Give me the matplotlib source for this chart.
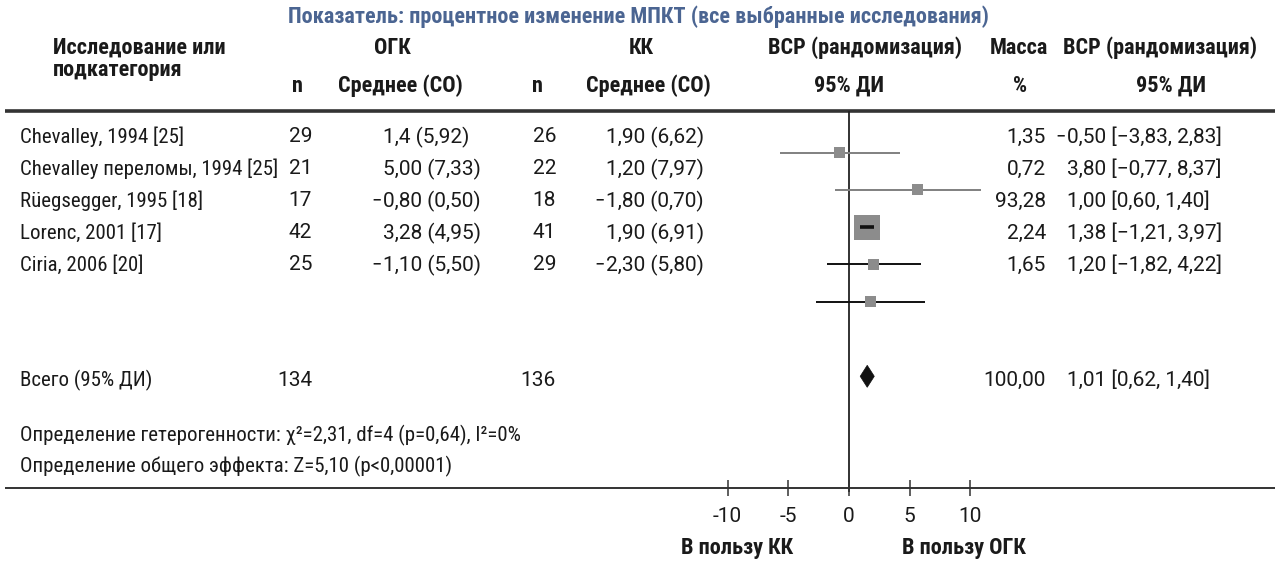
import matplotlib
matplotlib.use("Agg")
import numpy as np
import matplotlib.pyplot as plt
from matplotlib import font_manager
from matplotlib.patches import Polygon

# ---------------- data ----------------
studies = ["Chevalley, 1994 [25]", "Chevalley переломы, 1994 [25]",
           "Rüegsegger, 1995 [18]", "Lorenc, 2001 [17]", "Ciria, 2006 [20]"]
n_ogk = [29, 21, 17, 42, 25]
mean_sd_ogk = ["1,4 (5,92)", "5,00 (7,33)", "−0,80 (0,50)", "3,28 (4,95)", "−1,10 (5,50)"]
n_kk = [26, 22, 18, 41, 29]
mean_sd_kk = ["1,90 (6,62)", "1,20 (7,97)", "−1,80 (0,70)", "1,90 (6,91)", "−2,30 (5,80)"]
md = [-0.50, 3.80, 1.00, 1.38, 1.20]
ci_low = [-3.83, -0.77, 0.60, -1.21, -1.82]
ci_high = [2.83, 8.37, 1.40, 3.97, 4.22]
weights = [1.35, 0.72, 93.28, 2.24, 1.65]

total_n_ogk = 134
total_n_kk = 136
total_md = 1.01
total_low = 0.62
total_high = 1.40
total_weight = 100.00

axis_ticks = [-10, -5, 0, 5, 10]

title = "Показатель: процентное изменение МПКТ (все выбранные исследования)"
heterogeneity = "Определение гетерогенности: χ²=2,31, df=4 (p=0,64), I²=0%"
overall_effect = "Определение общего эффекта: Z=5,10 (p<0,00001)"
favours_left = "В пользу КК"
favours_right = "В пользу ОГК"

# ---------------- fonts ----------------
available = {f.name for f in font_manager.fontManager.ttflist}
family = "DejaVu Sans"
for cand in ["Liberation Sans Narrow", "Roboto Condensed", "Open Sans Condensed"]:
    if cand in available:
        family = cand
        break
plt.rcParams["font.family"] = [family, "DejaVu Sans"]
num_family = ["Roboto", "DejaVu Sans"] if "Roboto" in available else [family, "DejaVu Sans"]


def fmt(v):
    return f"{v:.2f}".replace(".", ",").replace("-", "−")


W, H = 1275, 562
fig = plt.figure(figsize=(W / 100, H / 100), dpi=100)

# full-figure canvas for the table, in pixel units
ax = fig.add_axes([0, 0, 1, 1])
ax.set_xlim(0, W)
ax.set_ylim(H, 0)
ax.axis("off")

TXT = "#1a1a1a"
FS = 15
HFS = 16

ax.text(638, 17, title, ha="center", va="center", fontsize=16,
        fontweight="bold", color="#4b6592")

# header
hy1, hy2, hy3 = 48, 70, 86
hdr = dict(va="center", fontsize=HFS, fontweight="bold", color=TXT)
ax.text(53, hy1, "Исследование или", ha="left", **hdr)
ax.text(53, hy2, "подкатегория", ha="left", **hdr)
ax.text(392, hy1, "ОГК", ha="center", **hdr)
ax.text(641, hy1, "КК", ha="center", **hdr)
ax.text(865, hy1, "ВСР (рандомизация)", ha="center", **hdr)
ax.text(1019, hy1, "Масса", ha="center", **hdr)
ax.text(1160, hy1, "ВСР (рандомизация)", ha="center", **hdr)
for x, s in [(297, "n"), (400, "Среднее (СО)"), (537, "n"), (648, "Среднее (СО)"),
             (849, "95% ДИ"), (1020, "%"), (1171, "95% ДИ")]:
    ax.text(x, hy3, s, ha="center", **hdr)

# rules
ax.plot([5, W], [111, 111], color="#333333", lw=2.6, solid_capstyle="butt")
ax.plot([5, W], [488, 488], color="#333333", lw=1.4, solid_capstyle="butt")

# study rows
row0, row_step = 137, 32.0
body = dict(va="center", fontsize=FS, color=TXT)
num = dict(va="center", fontsize=FS, color=TXT, family=num_family)


def hanging(x, y, s):
    """Left-aligned number whose leading minus sign hangs into the margin."""
    if s.startswith("−"):
        ax.text(x - 1, y, "−", ha="right", **body)
        s = s[1:]
    ax.text(x, y, s, ha="left", **num)


for i, name in enumerate(studies):
    y = row0 + i * row_step
    ax.text(20, y, name, ha="left", **body)
    ax.text(312, y, str(n_ogk[i]), ha="right", **num)
    hanging(383, y, mean_sd_ogk[i])
    ax.text(556, y, str(n_kk[i]), ha="right", **num)
    hanging(606, y, mean_sd_kk[i])
    ax.text(1046, y, fmt(weights[i]), ha="right", **num)
    hanging(1067, y, f"{fmt(md[i])} [{fmt(ci_low[i])}, {fmt(ci_high[i])}]")

ty = 380
ax.text(20, ty, "Всего (95% ДИ)", ha="left", **body)
ax.text(312, ty, str(total_n_ogk), ha="right", **num)
ax.text(556, ty, str(total_n_kk), ha="right", **num)
ax.text(1046, ty, fmt(total_weight), ha="right", **num)
hanging(1067, ty, f"{fmt(total_md)} [{fmt(total_low)}, {fmt(total_high)}]")

ax.text(20, 435, heterogeneity, ha="left", **body)
ax.text(20, 466, overall_effect, ha="left", **body)

ax.text(737, 548, favours_left, ha="center", **hdr)
ax.text(964, 548, favours_right, ha="center", **hdr)

# ---------------- forest panel ----------------
fx0, fx1 = 717.2, 980.8       # pixel extent of the effect scale
fy_top, fy_bot = 111, 492      # pixel extent of the zero line
m_row0, m_step = 152.5, 37.3   # vertical placement of the marks
xlim_eff = 7.3

axf = fig.add_axes([fx0 / W, 1 - fy_bot / H, (fx1 - fx0) / W, (fy_bot - fy_top) / H])
axf.set_xlim(-xlim_eff, xlim_eff)
axf.set_ylim((fy_bot - m_row0) / m_step, (fy_top - m_row0) / m_step)
axf.axis("off")
axf.patch.set_alpha(0)

axf.axvline(0, color="#222222", lw=1.3, zorder=1)

rows = np.arange(len(studies))
line_colors = ["#808080", "#808080", "#111111", "#111111", "#111111"]
side_px = np.maximum(11, 2.6 * np.sqrt(weights))
side_pt = side_px * 72 / 100
for r in rows:
    width_px = (ci_high[r] - ci_low[r]) * (fx1 - fx0) / (2 * xlim_eff)
    inside = width_px < side_px[r]
    axf.plot([ci_low[r], ci_high[r]], [r, r], color=line_colors[r],
             lw=2.6 if inside else 1.4, zorder=4 if inside else 2,
             solid_capstyle="butt")
axf.scatter(md, rows, s=side_pt ** 2, marker="s", color="#8c8c8c",
            linewidths=0, zorder=3)

t_row = 6
hh = 11 / m_step
axf.add_patch(Polygon([(total_low, t_row), (total_md, t_row - hh),
                       (total_high, t_row), (total_md, t_row + hh)],
                      closed=True, facecolor="#111111", edgecolor="#111111",
                      lw=0.5, zorder=4))

# tick scale along the bottom rule
axt = fig.add_axes([fx0 / W, 1 - 488 / H, (fx1 - fx0) / W, 0.001])
axt.set_xlim(-10.85, 10.85)
axt.set_xticks(axis_ticks)
axt.set_xticklabels([str(t) for t in axis_ticks], family=num_family)
axt.set_yticks([])
for sp in axt.spines.values():
    sp.set_visible(False)
axt.patch.set_alpha(0)
axt.tick_params(axis="x", direction="inout", length=11, width=1.1,
                color="#333333", labelsize=FS, labelcolor=TXT, pad=8)

fig.savefig("out.png", dpi=100)
